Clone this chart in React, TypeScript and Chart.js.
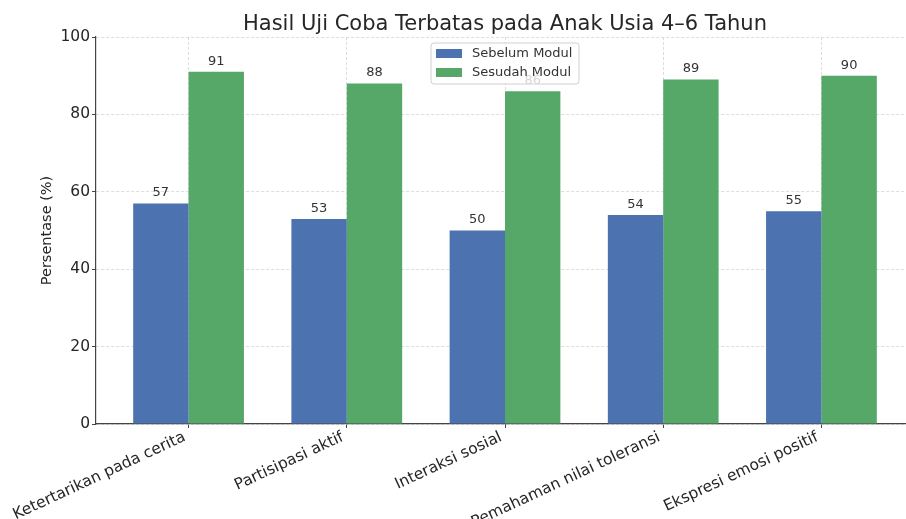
import React, { useEffect, useRef } from "react";
import { Chart, registerables } from "chart.js";

Chart.register(...registerables);

const TITLE = "Hasil Uji Coba Terbatas pada Anak Usia 4–6 Tahun";
const Y_LABEL = "Persentase (%)";
const categories = [
  "Ketertarikan pada cerita",
  "Partisipasi aktif",
  "Interaksi sosial",
  "Pemahaman nilai toleransi",
  "Ekspresi emosi positif",
];
const seriesNames = ["Sebelum Modul", "Sesudah Modul"];
const sebelum = [57, 53, 50, 54, 55];
const sesudah = [91, 88, 86, 89, 90];
const yTicks = [0, 20, 40, 60, 80, 100];
const colors = ["#4C72B0", "#55A868"];

const FONT = "'DejaVu Sans', sans-serif";
const CANVAS_W = 916;
const CANVAS_H = 519;

const overlayPlugin = {
  id: "overlay",
  afterDatasetsDraw(chart: any) {
    const ctx = chart.ctx;
    ctx.save();
    ctx.font = `13px ${FONT}`;
    ctx.fillStyle = "#333333";
    ctx.textAlign = "center";
    ctx.textBaseline = "bottom";
    chart.data.datasets.forEach((ds: any, di: number) => {
      const meta = chart.getDatasetMeta(di);
      meta.data.forEach((bar: any, i: number) => {
        const v = ds.data[i].y;
        ctx.fillText(String(v), bar.x, bar.y - 4);
      });
    });
    ctx.restore();
  },
  afterDraw(chart: any) {
    const ctx = chart.ctx;
    const area = chart.chartArea;
    const cx = (area.left + area.right) / 2;
    ctx.save();
    // Title
    ctx.font = `21px ${FONT}`;
    ctx.fillStyle = "#262626";
    ctx.textAlign = "center";
    ctx.textBaseline = "alphabetic";
    ctx.fillText(TITLE, cx, 30);
    // Y label
    ctx.save();
    ctx.translate(47, (area.top + area.bottom) / 2);
    ctx.rotate(-Math.PI / 2);
    ctx.font = `14.5px ${FONT}`;
    ctx.textBaseline = "middle";
    ctx.fillStyle = "#262626";
    ctx.fillText(Y_LABEL, 0, 0);
    ctx.restore();
    // Legend
    const lw = 148;
    const lh = 41;
    const lx = cx - lw / 2;
    const ly = area.top + 6;
    const r = 3;
    ctx.beginPath();
    ctx.moveTo(lx + r, ly);
    ctx.lineTo(lx + lw - r, ly);
    ctx.arcTo(lx + lw, ly, lx + lw, ly + r, r);
    ctx.lineTo(lx + lw, ly + lh - r);
    ctx.arcTo(lx + lw, ly + lh, lx + lw - r, ly + lh, r);
    ctx.lineTo(lx + r, ly + lh);
    ctx.arcTo(lx, ly + lh, lx, ly + lh - r, r);
    ctx.lineTo(lx, ly + r);
    ctx.arcTo(lx, ly, lx + r, ly, r);
    ctx.closePath();
    ctx.fillStyle = "rgba(255,255,255,0.8)";
    ctx.fill();
    ctx.strokeStyle = "#d0d0d0";
    ctx.lineWidth = 1;
    ctx.stroke();
    ctx.font = `13px ${FONT}`;
    ctx.textAlign = "left";
    ctx.textBaseline = "middle";
    seriesNames.forEach((name, i) => {
      const ry = ly + 6 + i * 19;
      ctx.fillStyle = colors[i];
      ctx.fillRect(lx + 5, ry, 26, 9);
      ctx.fillStyle = "#333333";
      ctx.fillText(name, lx + 41, ry + 5);
    });
    ctx.restore();
  },
};

export default function App() {
  const ref = useRef<HTMLCanvasElement | null>(null);
  useEffect(() => {
    if (!ref.current) return;
    const gridColor = "#d4d4d4";
    const spine = "#444444";
    const chart = new Chart(ref.current, {
      type: "bar",
      data: {
        datasets: [
          {
            label: seriesNames[0],
            data: sebelum.map((v, i) => ({ x: i, y: v })),
            backgroundColor: colors[0],
            categoryPercentage: 0.7,
            barPercentage: 1.0,
          },
          {
            label: seriesNames[1],
            data: sesudah.map((v, i) => ({ x: i, y: v })),
            backgroundColor: colors[1],
            categoryPercentage: 0.7,
            barPercentage: 1.0,
          },
        ] as any,
      },
      options: {
        responsive: false,
        devicePixelRatio: 1,
        animation: false,
        layout: { padding: { top: 37, right: 2, left: 0, bottom: 0 } },
        plugins: {
          legend: { display: false },
          title: { display: false },
          tooltip: { enabled: false },
        },
        scales: {
          x: {
            type: "linear",
            min: -0.585,
            max: 4.585,
            offset: false,
            afterBuildTicks: (scale: any) => {
              scale.ticks = categories.map((_, i) => ({ value: i }));
            },
            afterFit: (scale: any) => {
              scale.height = CANVAS_H - 424;
              scale.paddingLeft = 0;
              scale.paddingRight = 0;
            },
            ticks: {
              autoSkip: false,
              maxRotation: 25,
              minRotation: 25,
              padding: 0,
              labelOffset: -4,
              color: "#262626",
              font: { family: FONT, size: 15.5 },
              callback: (v: any) => categories[Math.round(Number(v))] ?? "",
            },
            grid: {
              offset: false,
              color: gridColor,
              lineWidth: 0.8,
              drawTicks: true,
              tickLength: 4,
              tickColor: spine,
              tickWidth: 1,
              tickBorderDash: [],
            },
            border: { display: true, color: spine, width: 1.2, dash: [3, 2] },
          } as any,
          y: {
            type: "linear",
            min: 0,
            max: 100,
            afterBuildTicks: (scale: any) => {
              scale.ticks = yTicks.map((v) => ({ value: v }));
            },
            afterFit: (scale: any) => {
              scale.width = 96;
            },
            ticks: {
              padding: 2,
              color: "#262626",
              font: { family: FONT, size: 15.5 },
            },
            grid: {
              color: gridColor,
              lineWidth: 0.8,
              drawTicks: true,
              tickLength: 4,
              tickColor: spine,
              tickWidth: 1,
              tickBorderDash: [],
            },
            border: { display: true, color: spine, width: 1.2, dash: [3, 2] },
          } as any,
        },
      },
      plugins: [overlayPlugin],
    });
    return () => chart.destroy();
  }, []);
  return (
    <div
      style={{
        position: "absolute",
        left: 0,
        top: 0,
        width: 906,
        height: 519,
        overflow: "hidden",
        background: "#ffffff",
      }}
    >
      <canvas
        ref={ref}
        width={CANVAS_W}
        height={CANVAS_H}
        style={{ display: "block", width: CANVAS_W, height: CANVAS_H }}
      />
    </div>
  );
}
